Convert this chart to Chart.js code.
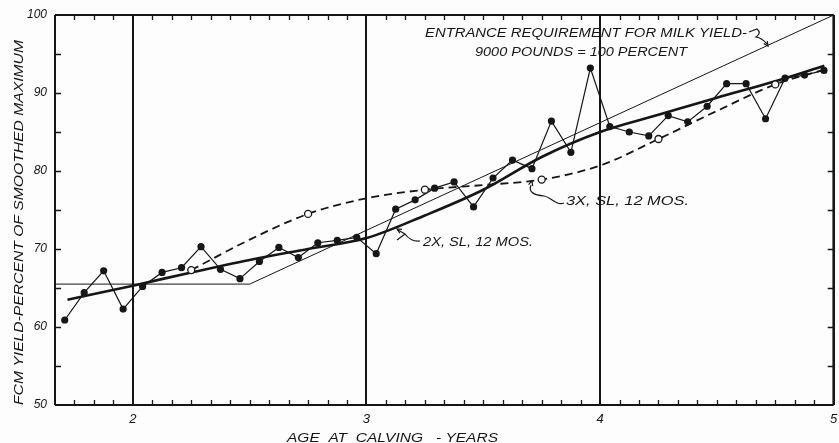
<!DOCTYPE html>
<html>
<head>
<meta charset="utf-8">
<script src="https://cdn.jsdelivr.net/npm/chart.js@4.4.1/dist/chart.umd.min.js"></script>
<style>
  html, body { margin: 0; padding: 0; background: #fdfdfd; }
  #wrap { width: 839px; height: 443px; }
</style>
</head>
<body>
<div id="wrap"><canvas id="c" width="839" height="443"></canvas></div>
<script>
// Age at calving, in months, of each monthly group
const ageMonths = [20.5, 21.5, 22.5, 23.5, 24.5, 25.5, 26.5, 27.5, 28.5, 29.5,
                   30.5, 31.5, 32.5, 33.5, 34.5, 35.5, 36.5, 37.5, 38.5, 39.5,
                   40.5, 41.5, 42.5, 43.5, 44.5, 45.5, 46.5, 47.5, 48.5, 49.5,
                   50.5, 51.5, 52.5, 53.5, 54.5, 55.5, 56.5, 57.5, 58.5, 59.5];
// FCM yield, percent of smoothed maximum, per monthly group
const monthlyYield = [60.9, 64.4, 67.2, 62.3, 65.2, 67.0, 67.6, 70.3, 67.4, 66.2,
                      68.4, 70.2, 68.9, 70.8, 71.1, 71.5, 69.4, 75.1, 76.3, 77.8,
                      78.6, 75.4, 79.1, 81.4, 80.3, 86.4, 82.4, 93.2, 85.7, 85.0,
                      84.5, 87.1, 86.3, 88.3, 91.2, 91.2, 86.7, 91.9, 92.3, 92.9];

// Smoothed curve, 2X, SL, 12 MOS. (years, percent)
const twiceAges = [1.72, 2.0, 2.25, 2.5, 2.75, 3.0, 3.25, 3.5, 3.75, 4.0, 4.25, 4.5, 4.75, 4.96];
const twiceVals = [63.5, 65.3, 67.0, 68.6, 70.0, 71.4, 74.3, 77.6, 81.8, 85.0, 87.2, 89.4, 91.5, 93.5];

// Smoothed curve, 3X, SL, 12 MOS. (years, percent)
const thriceAges = [2.25, 2.5, 2.75, 3.0, 3.25, 3.5, 3.75, 4.0, 4.25, 4.5, 4.75, 4.96];
const thriceVals = [67.3, 71.2, 74.5, 76.5, 77.6, 78.2, 78.9, 80.7, 84.1, 87.7, 91.1, 93.0];
// Half-year group means for 3X
const thriceGroupAges = [2.25, 2.75, 3.25, 3.75, 4.25, 4.75];
const thriceGroupVals = [67.3, 74.5, 77.6, 78.9, 84.1, 91.1];

// Entrance requirement for milk yield (9000 pounds = 100 percent)
const entranceAges = [20 / 12, 2.5, 5];
const entranceVals = [65.5, 65.5, 100];

const yearTicks = [2, 3, 4, 5];
const percentTicks = [50, 60, 70, 80, 90, 100];

const INK = '#161616';
const FONT = '"Liberation Sans", "DejaVu Sans", sans-serif';

const pts = (xs, ys) => xs.map((v, i) => ({ x: v, y: ys[i] }));

// Draws italic upper-case lettering stretched to a given width
function letter(ctx, text, x, y, width, size, angle) {
  ctx.save();
  ctx.font = 'italic ' + size + 'px ' + FONT;
  const w = ctx.measureText(text).width;
  ctx.translate(x, y);
  if (angle) ctx.rotate(angle);
  ctx.scale(width / w, 1);
  ctx.textBaseline = 'alphabetic';
  ctx.textAlign = 'left';
  ctx.fillText(text, 0, 0);
  ctx.restore();
}

function arrowHead(ctx, tipX, tipY, fromX, fromY, len) {
  const a = Math.atan2(tipY - fromY, tipX - fromX);
  ctx.beginPath();
  ctx.moveTo(tipX - len * Math.cos(a - 0.45), tipY - len * Math.sin(a - 0.45));
  ctx.lineTo(tipX, tipY);
  ctx.lineTo(tipX - len * Math.cos(a + 0.45), tipY - len * Math.sin(a + 0.45));
  ctx.stroke();
}

const framePlugin = {
  id: 'framePlugin',
  afterDraw(chart) {
    const { ctx, chartArea: a, scales: { x, y } } = chart;
    ctx.save();
    ctx.strokeStyle = INK;
    ctx.fillStyle = INK;

    // frame
    ctx.lineWidth = 2;
    ctx.beginPath();
    ctx.moveTo(a.left, a.top); ctx.lineTo(a.right, a.top);
    ctx.moveTo(a.left, a.bottom); ctx.lineTo(a.right, a.bottom);
    ctx.moveTo(a.left, a.top); ctx.lineTo(a.left, a.bottom);
    ctx.stroke();
    ctx.lineWidth = 1.6;
    ctx.beginPath();
    ctx.moveTo(a.right - 0.5, a.top); ctx.lineTo(a.right - 0.5, a.bottom);
    ctx.stroke();

    // monthly ticks on top and bottom edges, pointing inward
    ctx.lineWidth = 1.3;
    ctx.beginPath();
    for (let m = 21; m < 60; m++) {
      if (m % 12 === 0) continue;
      const px = Math.round(x.getPixelForValue(m / 12)) + 0.5;
      ctx.moveTo(px, a.top); ctx.lineTo(px, a.top + 5);
      ctx.moveTo(px, a.bottom); ctx.lineTo(px, a.bottom - 5);
    }
    // 5-percent ticks on left and right edges
    for (let v = 55; v < 100; v += 5) {
      const py = Math.round(y.getPixelForValue(v)) + 0.5;
      ctx.moveTo(a.left, py); ctx.lineTo(a.left + 6, py);
      ctx.moveTo(a.right, py); ctx.lineTo(a.right - 6, py);
    }
    ctx.stroke();

    // lettering
    letter(ctx, 'ENTRANCE REQUIREMENT FOR MILK YIELD-', 425, 37, 322, 13);
    letter(ctx, '9000 POUNDS = 100 PERCENT', 475, 56, 212, 13);
    letter(ctx, '2X, SL, 12 MOS.', 423, 246, 110, 13);
    letter(ctx, '3X, SL, 12 MOS.', 566, 205, 123, 13);
    letter(ctx, 'AGE  AT  CALVING   - YEARS', 287, 442, 211, 13);
    letter(ctx, 'FCM YIELD-PERCENT OF SMOOTHED MAXIMUM', 23, 405, 365, 13, -Math.PI / 2);

    // leaders
    ctx.lineWidth = 1.2;
    ctx.beginPath();
    ctx.moveTo(749, 32);
    ctx.lineTo(757, 29);
    ctx.quadraticCurveTo(762, 33, 756, 37);
    ctx.quadraticCurveTo(762, 38, 767, 44);
    ctx.stroke();
    arrowHead(ctx, 768, 46, 764, 40, 5);

    ctx.beginPath();
    ctx.moveTo(420, 241);
    ctx.quadraticCurveTo(411, 242, 405, 234);
    ctx.lineTo(398, 230);
    ctx.moveTo(405, 234);
    ctx.lineTo(397, 240);
    ctx.stroke();
    arrowHead(ctx, 397, 229, 404, 233, 5);

    ctx.beginPath();
    ctx.moveTo(564, 203);
    ctx.bezierCurveTo(556, 206, 551, 197, 544, 196);
    ctx.bezierCurveTo(535, 195, 528, 193, 531, 185);
    ctx.stroke();
    arrowHead(ctx, 532, 181, 530, 187, 5);

    ctx.restore();
  }
};

new Chart(document.getElementById('c'), {
  type: 'line',
  data: {
    datasets: [
      {
        label: '3X half-year groups',
        data: pts(thriceGroupAges, thriceGroupVals),
        showLine: false,
        pointRadius: 3.5,
        pointBackgroundColor: '#fdfdfd',
        pointBorderColor: INK,
        pointBorderWidth: 1.3,
        order: 0
      },
      {
        label: 'Monthly groups',
        data: pts(ageMonths.map(m => m / 12), monthlyYield),
        borderColor: INK,
        borderWidth: 1.2,
        pointRadius: 3.6,
        pointBackgroundColor: INK,
        pointBorderColor: INK,
        pointBorderWidth: 0,
        tension: 0,
        order: 1
      },
      {
        label: '2X, SL, 12 MOS.',
        data: pts(twiceAges, twiceVals),
        borderColor: INK,
        borderWidth: 2.6,
        pointRadius: 0,
        cubicInterpolationMode: 'monotone',
        order: 2
      },
      {
        label: '3X, SL, 12 MOS.',
        data: pts(thriceAges, thriceVals),
        borderColor: INK,
        borderWidth: 1.8,
        borderDash: [8, 5],
        pointRadius: 0,
        cubicInterpolationMode: 'monotone',
        order: 3
      },
      {
        label: 'Entrance requirement',
        data: pts(entranceAges, entranceVals),
        borderColor: INK,
        borderWidth: 1,
        pointRadius: 0,
        tension: 0,
        order: 4
      }
    ]
  },
  options: {
    responsive: false,
    animation: false,
    devicePixelRatio: 1,
    layout: { padding: { left: 0, right: 2, top: 15, bottom: 0 } },
    plugins: { legend: { display: false }, tooltip: { enabled: false } },
    scales: {
      x: {
        type: 'linear',
        min: 20 / 12,
        max: 5,
        afterFit: s => { s.height = 38; s.paddingLeft = 0; s.paddingRight = 0; },
        afterBuildTicks: s => { s.ticks = yearTicks.map(v => ({ value: v })); },
        ticks: {
          includeBounds: false,
          padding: 7,
          color: INK,
          font: { family: FONT, size: 13, style: 'italic' },
          callback: v => String(v)
        },
        grid: {
          drawTicks: false,
          color: INK,
          lineWidth: 2
        },
        border: { display: false }
      },
      y: {
        min: 50,
        max: 100,
        afterFit: s => { s.width = 55; s.paddingTop = 0; s.paddingBottom = 0; },
        afterBuildTicks: s => { s.ticks = percentTicks.map(v => ({ value: v })); },
        ticks: {
          padding: 8,
          color: INK,
          font: { family: FONT, size: 12, style: 'italic' },
          callback: v => String(v)
        },
        grid: { drawOnChartArea: false, drawTicks: false },
        border: { display: false }
      }
    }
  },
  plugins: [framePlugin]
});
</script>
</body>
</html>
